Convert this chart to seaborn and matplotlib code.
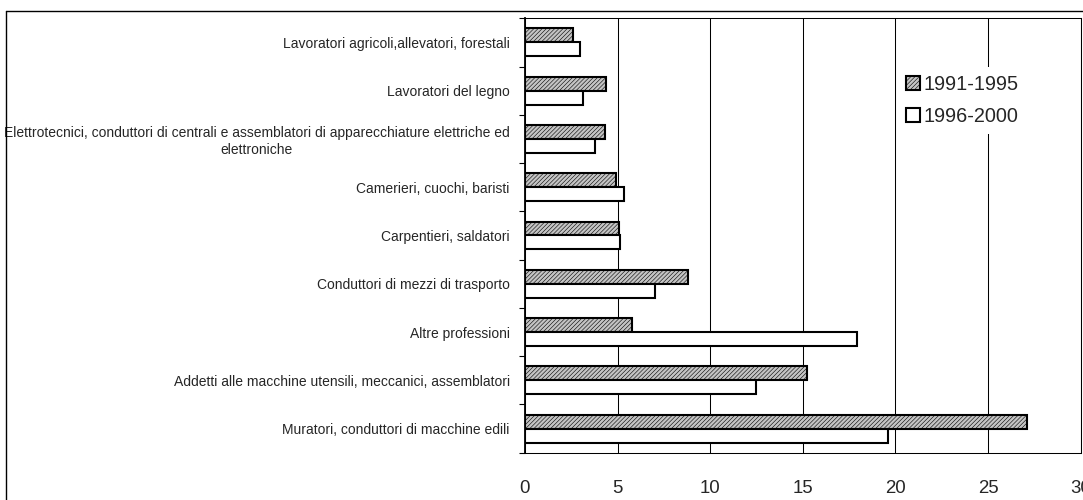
import matplotlib
matplotlib.use("Agg")
import matplotlib.pyplot as plt
import seaborn as sns
import pandas as pd
from matplotlib.patches import Patch
from matplotlib.lines import Line2D
from matplotlib.ticker import FixedLocator

# dati (quota % per professione)
professioni = [
    "Lavoratori agricoli,allevatori, forestali",
    "Lavoratori del legno",
    "Elettrotecnici, conduttori di centrali e assemblatori di apparecchiature elettriche ed\nelettroniche",
    "Camerieri, cuochi, baristi",
    "Carpentieri, saldatori",
    "Conduttori di mezzi di trasporto",
    "Altre professioni",
    "Addetti alle macchine utensili, meccanici, assemblatori",
    "Muratori, conduttori di macchine edili",
]
periodi = ["1991-1995", "1996-2000"]
val_1991_1995 = [2.6, 4.35, 4.3, 4.9, 5.1, 8.8, 5.8, 15.2, 27.1]
val_1996_2000 = [2.95, 3.15, 3.8, 5.35, 5.15, 7.0, 17.9, 12.45, 19.6]
x_ticks = [0, 5, 10, 15, 20, 25, 30]

df = pd.DataFrame({
    "professione": professioni * 2,
    "periodo": [periodi[0]] * len(professioni) + [periodi[1]] * len(professioni),
    "valore": val_1991_1995 + val_1996_2000,
})

sns.set_style("white")
plt.rcParams["font.family"] = ["Liberation Sans", "DejaVu Sans"]
plt.rcParams["hatch.linewidth"] = 0.4

fig = plt.figure(figsize=(10.83, 5.0), dpi=100)
ax = fig.add_axes([525 / 1083, 1 - 452.7 / 500, (1080.7 - 525) / 1083, (452.7 - 18.3) / 500])

colori = ["#c4c4c4", "white"]
tratteggio = "////////"
sns.barplot(data=df, x="valore", y="professione", hue="periodo", orient="h",
            hue_order=periodi, palette=colori, saturation=1, width=0.58,
            edgecolor="black", linewidth=1.5, legend=False, ax=ax, zorder=3)

# tratteggio per il primo periodo
for bar in ax.containers[0]:
    bar.set_hatch(tratteggio)

ax.set_xlim(0, 30)
ax.set_ylim(len(professioni) - 0.5, -0.5)
ax.set_xticks(x_ticks)
ax.set_xticklabels([str(t) for t in x_ticks], fontsize=13.4)
ax.tick_params(axis="x", direction="out", length=4.5, width=0.8, color="black", pad=15)
ax.tick_params(axis="y", which="major", length=0, pad=11, labelsize=10)
ax.set_yticks(range(len(professioni)))
ax.set_yticklabels(professioni, multialignment="center")
ax.yaxis.set_minor_locator(FixedLocator([i - 0.5 for i in range(len(professioni) + 1)]))
ax.tick_params(axis="y", which="minor", direction="out", length=4.5, width=0.8, color="black", left=True)
ax.set_xlabel("")
ax.set_ylabel("")

ax.xaxis.grid(True, color="black", linewidth=0.75, zorder=0)
ax.set_axisbelow(True)
for lato in ["top", "right", "bottom"]:
    ax.spines[lato].set_color("black")
    ax.spines[lato].set_linewidth(0.75)
ax.spines["left"].set_color("black")
ax.spines["left"].set_linewidth(1.3)

# legenda
maniglie = [
    Patch(facecolor=colori[0], edgecolor="black", hatch=tratteggio, linewidth=1.5, label=periodi[0]),
    Patch(facecolor=colori[1], edgecolor="black", linewidth=1.5, label=periodi[1]),
]
leg = ax.legend(handles=maniglie, loc="upper left", bbox_to_anchor=(0.671, 0.887),
                borderaxespad=0, fontsize=14.3, frameon=True, fancybox=False,
                handlelength=0.72, handleheight=0.72, handletextpad=0.17,
                labelspacing=0.62, borderpad=0.4)
leg.get_frame().set_facecolor("white")
leg.get_frame().set_edgecolor("none")
leg.get_frame().set_alpha(1)

# cornice esterna dell'area grafico
fig.add_artist(Line2D([6 / 1083, 6 / 1083], [0, 1 - 11 / 500], transform=fig.transFigure, color="black", linewidth=1))
fig.add_artist(Line2D([6 / 1083, 1], [1 - 11 / 500, 1 - 11 / 500], transform=fig.transFigure, color="black", linewidth=1))

fig.savefig("out.png", dpi=100, facecolor="white")
